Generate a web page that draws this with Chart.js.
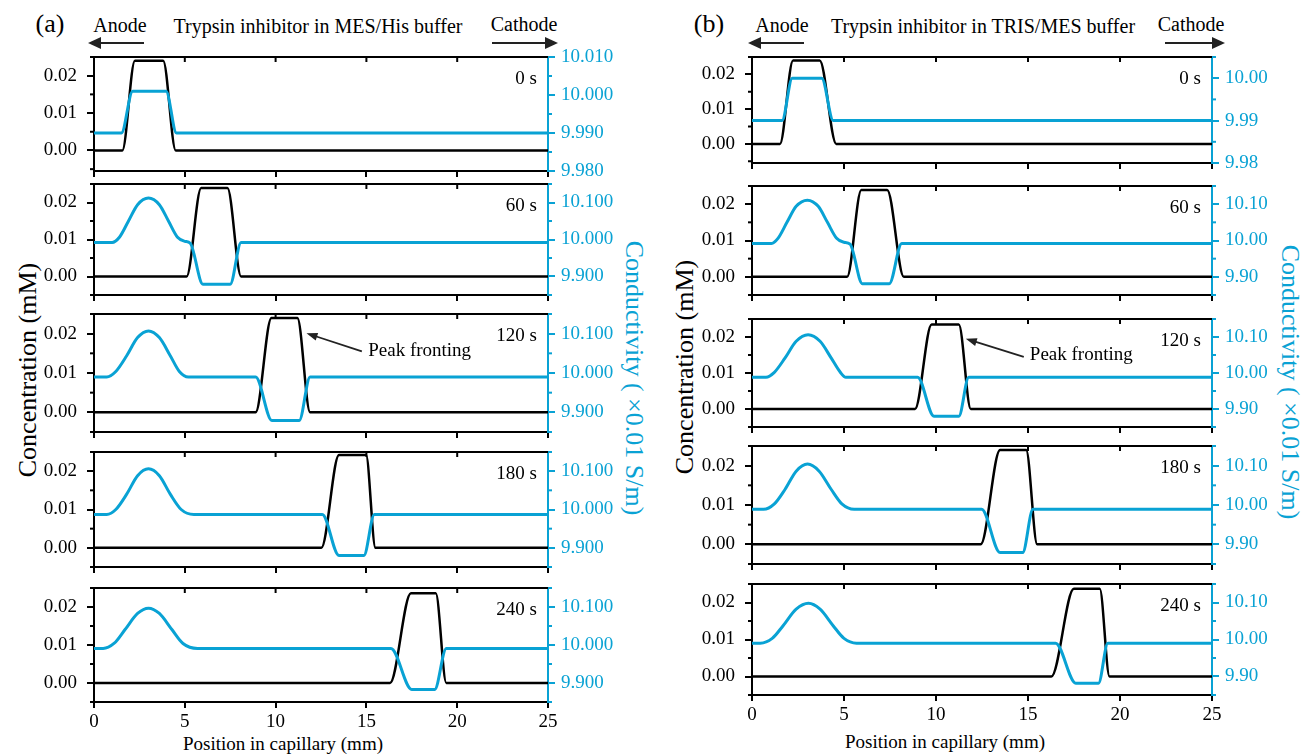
<!DOCTYPE html>
<html>
<head>
<meta charset="utf-8">
<script src="https://cdn.jsdelivr.net/npm/chart.js@4.4.0/dist/chart.umd.min.js"></script>
<style>
  body { margin: 0; background: #fff; }
  #fig { position: relative; width: 1304px; height: 754px; overflow: hidden;
         font-family: "Liberation Serif", "Tinos", "Times New Roman", "DejaVu Serif", "Noto Serif", serif; color: #000; }
  #fig canvas { position: absolute; }
  .lbl { position: absolute; white-space: nowrap; transform: translate(-50%, -50%); line-height: 1; }
  .cyan { color: #09a2d4; }
</style>
</head>
<body>
<div id="fig">
  <div class="lbl" style="left:50px;top:24px;font-size:26px">(a)</div>
  <div class="lbl" style="left:120px;top:25px;font-size:20px">Anode</div>
  <div class="lbl" style="left:318px;top:26px;font-size:20px">Trypsin inhibitor in MES/His buffer</div>
  <div class="lbl" style="left:524px;top:24px;font-size:20px">Cathode</div>

  <div class="lbl" style="left:709px;top:24px;font-size:26px">(b)</div>
  <div class="lbl" style="left:782px;top:25px;font-size:20px">Anode</div>
  <div class="lbl" style="left:983px;top:26px;font-size:20px">Trypsin inhibitor in TRIS/MES buffer</div>
  <div class="lbl" style="left:1191px;top:24px;font-size:20px">Cathode</div>

  <div class="lbl" style="left:28px;top:370px;font-size:26px;transform:translate(-50%,-50%) rotate(-90deg)">Concentration (mM)</div>
  <div class="lbl cyan" style="left:634px;top:378px;font-size:26px;transform:translate(-50%,-50%) rotate(90deg)">Conductivity ( ×0.01 S/m)</div>
  <div class="lbl" style="left:685px;top:367px;font-size:26px;transform:translate(-50%,-50%) rotate(-90deg)">Concentration (mM)</div>
  <div class="lbl cyan" style="left:1290px;top:382px;font-size:26px;transform:translate(-50%,-50%) rotate(90deg)">Conductivity ( ×0.01 S/m)</div>

  <div class="lbl" style="left:283px;top:743px;font-size:19px">Position in capillary (mm)</div>
  <div class="lbl" style="left:945px;top:741px;font-size:19px">Position in capillary (mm)</div>

  <svg width="1304" height="754" style="position:absolute;left:0;top:0;pointer-events:none">
    <g stroke="#222" stroke-width="2" fill="#222">
      <line x1="144" y1="43" x2="98" y2="43"/><polygon points="88,43 101,37 101,49" stroke="none"/>
      <line x1="492" y1="43" x2="548" y2="43"/><polygon points="558,43 545,37 545,49" stroke="none"/>
      <line x1="804" y1="43" x2="758" y2="43"/><polygon points="748,43 761,37 761,49" stroke="none"/>
      <line x1="1165" y1="43" x2="1215" y2="43"/><polygon points="1225,43 1212,37 1212,49" stroke="none"/>
    </g>
  </svg>
</div>

<script>
const CYAN = "#09a2d4";
const FONT = '"Liberation Serif", "Tinos", "Times New Roman", "DejaVu Serif", "Noto Serif", serif';

// tick values
const posTicks = [0, 5, 10, 15, 20, 25];
const concTicks = [0, 0.01, 0.02];
const condTicksA0 = [9.98, 9.99, 10.0, 10.01];
const condTicksB0 = [9.98, 9.99, 10.0];
const condTicks = [9.9, 10.0, 10.1];
const timeLabels = ["0 s", "60 s", "120 s", "180 s", "240 s"];

// (a) MES/His buffer — concentration (mM) and conductivity vs position (mm)
const aConcX0 = [0, 1.56, 2.25, 3.81, 4.5, 25];
const aConcY0 = [0, 0, 0.024, 0.024, 0, 0];
const aCondX0 = [0, 1.51, 2.13, 3.97, 4.54, 25];
const aCondY0 = [9.99, 9.99, 10.001, 10.001, 9.99, 9.99];

const aConcX60 = [0, 5.1, 5.9, 7.35, 8.1, 25];
const aConcY60 = [0, 0, 0.0239, 0.0239, 0, 0];
const aCondX60 = [0, 1.0, 1.4, 1.9, 2.4, 3.0, 3.6, 4.1, 4.6, 5.0, 5.3, 6.0, 7.5, 8.1, 25];
const aCondY60 = [9.992, 9.992, 10.006, 10.05, 10.094, 10.112, 10.094, 10.05, 10.006, 9.995, 9.99, 9.879, 9.879, 9.992, 9.992];

const aConcX120 = [0, 8.9, 9.77, 11.2, 11.9, 25];
const aConcY120 = [0, 0, 0.024, 0.024, 0, 0];
const aCondX120 = [0, 0.7, 1.2, 1.8, 2.4, 3.0, 3.6, 4.2, 4.7, 5.2, 8.9, 9.8, 11.3, 11.9, 25];
const aCondY120 = [9.99, 9.99, 10.004, 10.044, 10.09, 10.107, 10.09, 10.044, 10.004, 9.99, 9.99, 9.879, 9.879, 9.99, 9.99];

const aConcX180 = [0, 12.52, 13.49, 14.98, 15.5, 25];
const aConcY180 = [0, 0, 0.0242, 0.0242, 0, 0];
const aCondX180 = [0, 0.7, 1.2, 1.8, 2.4, 3.0, 3.6, 4.2, 4.8, 5.5, 12.57, 13.49, 14.86, 15.44, 25];
const aCondY180 = [9.987, 9.987, 10.0, 10.04, 10.088, 10.106, 10.088, 10.04, 10.0, 9.987, 9.987, 9.88, 9.88, 9.987, 9.987];

const aConcX240 = [0, 16.3, 17.45, 18.82, 19.4, 25];
const aConcY240 = [0, 0, 0.0236, 0.0236, 0, 0];
const aCondX240 = [0, 0.5, 1.1, 1.7, 2.4, 3.0, 3.6, 4.3, 4.9, 5.7, 16.35, 17.5, 18.76, 19.4, 25];
const aCondY240 = [9.991, 9.991, 10.004, 10.04, 10.083, 10.097, 10.083, 10.04, 10.004, 9.991, 9.991, 9.883, 9.883, 9.991, 9.991];

// (b) TRIS/MES buffer
const bConcX0 = [0, 1.52, 2.23, 3.68, 4.58, 25];
const bConcY0 = [0, 0, 0.024, 0.024, 0, 0];
const bCondX0 = [0, 1.63, 2.19, 3.79, 4.42, 25];
const bCondY0 = [9.99, 9.99, 10.0, 10.0, 9.99, 9.99];

const bConcX60 = [0, 5.17, 5.94, 7.35, 8.25, 25];
const bConcY60 = [0, 0, 0.0239, 0.0239, 0, 0];
const bCondX60 = [0, 1.06, 1.4, 1.9, 2.4, 3.01, 3.6, 4.1, 4.6, 4.99, 5.33, 6.0, 7.46, 8.14, 25];
const bCondY60 = [9.992, 9.992, 10.005, 10.05, 10.094, 10.111, 10.094, 10.05, 10.006, 9.995, 9.99, 9.881, 9.881, 9.992, 9.992];

const bConcX120 = [0, 8.86, 9.76, 11.24, 11.89, 25];
const bConcY120 = [0, 0, 0.0235, 0.0235, 0, 0];
const bCondX120 = [0, 0.76, 1.2, 1.8, 2.4, 3.05, 3.7, 4.3, 4.8, 5.1, 9.0, 9.89, 11.24, 11.78, 25];
const bCondY120 = [9.988, 9.988, 10.001, 10.042, 10.088, 10.106, 10.088, 10.042, 10.002, 9.988, 9.988, 9.88, 9.88, 9.988, 9.988];

const bConcX180 = [0, 12.43, 13.48, 14.9, 15.5, 25];
const bConcY180 = [0, 0, 0.024, 0.024, 0, 0];
const bCondX180 = [0, 0.63, 1.2, 1.8, 2.4, 3.02, 3.65, 4.3, 4.9, 5.55, 12.48, 13.48, 14.71, 15.27, 25];
const bCondY180 = [9.989, 9.989, 10.002, 10.04, 10.086, 10.104, 10.086, 10.04, 10.002, 9.989, 9.989, 9.879, 9.879, 9.989, 9.989];

const bConcX240 = [0, 16.27, 17.49, 18.9, 19.43, 25];
const bConcY240 = [0, 0, 0.0237, 0.0237, 0, 0];
const bCondX240 = [0, 0.45, 1.1, 1.7, 2.4, 3.07, 3.7, 4.4, 5.0, 5.68, 16.5, 17.6, 18.83, 19.34, 25];
const bCondY240 = [9.99, 9.99, 10.003, 10.038, 10.082, 10.098, 10.082, 10.038, 10.003, 9.99, 9.99, 9.882, 9.882, 9.99, 9.99];

const panels = [
  {
    x0: 94, x1: 548, decimals: 3,
    boxes: [[57, 171], [184, 295], [314, 432], [452, 567], [588, 702]],
    conc: [[aConcX0, aConcY0], [aConcX60, aConcY60], [aConcX120, aConcY120], [aConcX180, aConcY180], [aConcX240, aConcY240]],
    cond: [[aCondX0, aCondY0], [aCondX60, aCondY60], [aCondX120, aCondY120], [aCondX180, aCondY180], [aCondX240, aCondY240]],
    firstTicks: condTicksA0, firstRange: [9.98, 10.01],
    note: { tip: [11.7, 0.0201], tail: [14.75, 0.0155], at: [15.1, 0.0155] }
  },
  {
    x0: 752, x1: 1212, decimals: 2,
    boxes: [[57, 163], [186, 295], [319, 427], [446, 564], [584, 695]],
    conc: [[bConcX0, bConcY0], [bConcX60, bConcY60], [bConcX120, bConcY120], [bConcX180, bConcY180], [bConcX240, bConcY240]],
    cond: [[bCondX0, bCondY0], [bCondX60, bCondY60], [bCondX120, bCondY120], [bCondX180, bCondY180], [bCondX240, bCondY240]],
    firstTicks: condTicksB0, firstRange: [9.98, 10.005],
    note: { tip: [11.62, 0.0195], tail: [14.77, 0.0145], at: [15.1, 0.015] }
  }
];

Chart.defaults.font.family = FONT;
Chart.defaults.color = "#000";

const pairs = (xs, ys) => xs.map((x, i) => ({ x, y: ys[i] }));
const fixTicks = (vals) => (scale) => { scale.ticks = vals.map((v) => ({ value: v })); };

// top edge with inward ticks, half-step minor ticks, time stamp and arrow note
const framePlugin = {
  id: "frame",
  afterDraw(chart, args, opts) {
    const { ctx, chartArea: a, scales } = chart;
    ctx.save();
    ctx.lineWidth = 2;
    ctx.strokeStyle = "#000";
    ctx.beginPath();
    ctx.moveTo(a.left - 1, a.top);
    ctx.lineTo(a.right, a.top);
    ctx.stroke();
    scales.x.ticks.forEach((t) => {
      const px = scales.x.getPixelForValue(t.value);
      if (px <= a.left + 1 || px >= a.right - 1) return;
      ctx.beginPath();
      ctx.moveTo(px, a.top);
      ctx.lineTo(px, a.top + 5);
      ctx.stroke();
    });

    [["y", -1, "#000"], ["yc", 1, CYAN]].forEach(([id, dir, color]) => {
      const s = scales[id];
      const vals = s.ticks.map((t) => t.value);
      const step = vals[1] - vals[0];
      const edge = dir < 0 ? a.left : a.right;
      ctx.strokeStyle = color;
      for (let v = vals[0] - step / 2; v <= s.max + step * 1e-6; v += step) {
        if (v < s.min - step * 1e-6) continue;
        const py = s.getPixelForValue(v);
        ctx.beginPath();
        ctx.moveTo(edge, py);
        ctx.lineTo(edge + dir * 4, py);
        ctx.stroke();
      }
    });

    ctx.fillStyle = "#000";
    ctx.font = "19px " + FONT;
    ctx.textAlign = "right";
    ctx.textBaseline = "middle";
    ctx.fillText(opts.time, a.right - 11, a.top + 22);

    if (opts.note) {
      const xs = scales.x, ys = scales.y;
      const tx = xs.getPixelForValue(opts.note.tip[0]), ty = ys.getPixelForValue(opts.note.tip[1]);
      const sx = xs.getPixelForValue(opts.note.tail[0]), sy = ys.getPixelForValue(opts.note.tail[1]);
      const ang = Math.atan2(ty - sy, tx - sx);
      ctx.strokeStyle = "#222";
      ctx.fillStyle = "#222";
      ctx.lineWidth = 1.8;
      ctx.beginPath();
      ctx.moveTo(sx, sy);
      ctx.lineTo(tx - 8 * Math.cos(ang), ty - 8 * Math.sin(ang));
      ctx.stroke();
      ctx.beginPath();
      ctx.moveTo(tx, ty);
      ctx.lineTo(tx - 11 * Math.cos(ang) + 4 * Math.sin(ang), ty - 11 * Math.sin(ang) - 4 * Math.cos(ang));
      ctx.lineTo(tx - 11 * Math.cos(ang) - 4 * Math.sin(ang), ty - 11 * Math.sin(ang) + 4 * Math.cos(ang));
      ctx.closePath();
      ctx.fill();
      ctx.fillStyle = "#000";
      ctx.textAlign = "left";
      ctx.fillText("Peak fronting", xs.getPixelForValue(opts.note.at[0]), ys.getPixelForValue(opts.note.at[1]));
    }
    ctx.restore();
  }
};

const fig = document.getElementById("fig");
// fixed axis boxes so every plot area lands on its frame
const LEFT_W = 70, RIGHT_W = 80, PAD_TOP = 26;

panels.forEach((p) => {
  p.boxes.forEach(([top, bottom], i) => {
    const last = i === p.boxes.length - 1;
    const bottomH = last ? 36 : 26;
    const canvas = document.createElement("canvas");
    canvas.width = p.x1 - p.x0 + LEFT_W + RIGHT_W;
    canvas.height = bottom - top + PAD_TOP + bottomH;
    canvas.style.left = (p.x0 - LEFT_W) + "px";
    canvas.style.top = (top - PAD_TOP) + "px";
    fig.appendChild(canvas);

    const condRange = i === 0 ? p.firstRange : [9.85, 10.15];
    const condVals = i === 0 ? p.firstTicks : condTicks;

    new Chart(canvas, {
      type: "line",
      data: {
        datasets: [
          {
            label: "Conductivity",
            data: pairs(p.cond[i][0], p.cond[i][1]),
            yAxisID: "yc",
            borderColor: CYAN,
            borderWidth: 3,
            order: 0
          },
          {
            label: "Concentration",
            data: pairs(p.conc[i][0], p.conc[i][1]),
            yAxisID: "y",
            borderColor: "#000",
            borderWidth: 2.5,
            order: 1
          }
        ]
      },
      options: {
        responsive: false,
        animation: false,
        layout: { padding: { top: PAD_TOP, left: 0, right: 0, bottom: 0 } },
        elements: {
          point: { radius: 0 },
          line: { cubicInterpolationMode: "monotone", borderJoinStyle: "round" }
        },
        plugins: {
          legend: { display: false },
          tooltip: { enabled: false },
          frame: { time: timeLabels[i], note: i === 2 ? p.note : null }
        },
        scales: {
          x: {
            type: "linear",
            min: 0,
            max: 25,
            afterBuildTicks: fixTicks(posTicks),
            afterFit: (s) => { s.height = bottomH; },
            grid: { drawOnChartArea: false, tickLength: 6, color: "#000", lineWidth: 2 },
            border: { color: "#000", width: 2 },
            ticks: { display: last, autoSkip: false, maxRotation: 0, padding: 3, font: { size: 19 } }
          },
          y: {
            position: "left",
            min: i === 0 ? -0.0055 : -0.005,
            max: 0.025,
            afterBuildTicks: fixTicks(concTicks),
            afterFit: (s) => { s.width = LEFT_W; },
            grid: { drawOnChartArea: false, tickLength: 7, color: "#000", lineWidth: 2 },
            border: { color: "#000", width: 2 },
            ticks: { padding: 10, font: { size: 19 }, callback: (v) => v.toFixed(2) }
          },
          yc: {
            position: "right",
            min: condRange[0],
            max: condRange[1],
            afterBuildTicks: fixTicks(condVals),
            afterFit: (s) => { s.width = RIGHT_W; },
            grid: { drawOnChartArea: false, tickLength: 7, color: CYAN, lineWidth: 2 },
            border: { color: CYAN, width: 2 },
            ticks: { padding: 6, color: CYAN, font: { size: 19 }, callback: (v) => v.toFixed(p.decimals) }
          }
        }
      },
      plugins: [framePlugin]
    });
  });
});
</script>
</body>
</html>
